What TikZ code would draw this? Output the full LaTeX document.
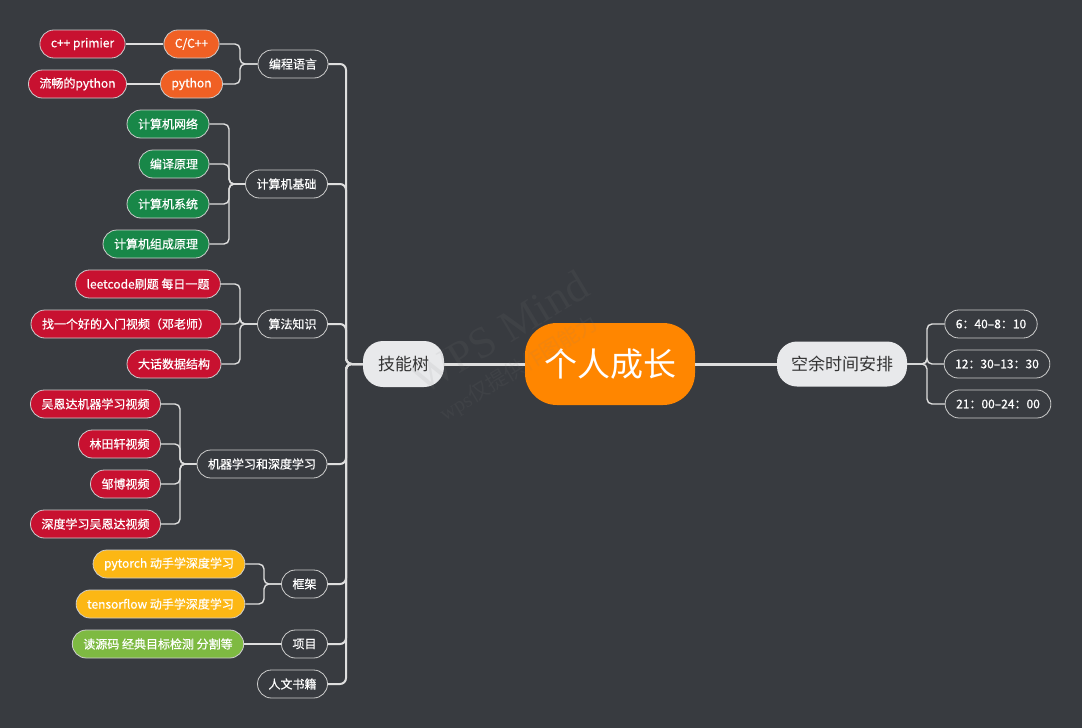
\documentclass[tikz,border=0pt]{standalone}
\usepackage{fontspec}
\setmainfont{Noto Sans CJK SC}
\newfontfamily\wmserif{Liberation Serif}
\newfontfamily\boldish[FakeBold=0.6]{Noto Sans CJK SC}
\begin{document}
\begin{tikzpicture}[x=1pt,y=-1pt,
  font=\boldish\fontsize{12}{14}\selectfont,
  base/.style={rounded corners=14pt, minimum height=28pt, inner xsep=11pt, inner ysep=0pt, draw=outl, line width=0.8pt, text=white, anchor=center},
  outl1/.style={base, fill=bgc},
  fillnode/.style={base, fill=#1},
  conn/.style={draw=linec, line width=1.4pt, rounded corners=5pt},
  conn2/.style={draw=linec, line width=2pt, rounded corners=6pt},
  conn3/.style={draw=linec, line width=3pt},
  wmark/.style={rotate=31, text=gray, opacity=0.1},
]
\definecolor{bgc}{RGB}{56,59,64}
\definecolor{outl}{RGB}{205,205,205}
\definecolor{linec}{RGB}{222,222,222}
\definecolor{rootc}{RGB}{255,134,0}
\definecolor{lightc}{RGB}{232,233,235}
\definecolor{darkt}{RGB}{51,51,51}
\definecolor{orc}{RGB}{240,96,36}
\definecolor{redc}{RGB}{200,17,48}
\definecolor{grnc}{RGB}{24,135,72}
\definecolor{yelc}{RGB}{252,183,20}
\definecolor{limc}{RGB}{126,186,66}

\fill[bgc] (0,0) rectangle (1082,728);
\useasboundingbox (0,0) rectangle (1082,728);

% centre
\node[fill=rootc, rounded corners=32pt, minimum height=82pt, inner xsep=19pt, text=white, font=\rmfamily\fontsize{33}{36}\selectfont] (root) at (610,364) {个人成长};
\node[fill=lightc, rounded corners=20pt, minimum height=46pt, inner xsep=15pt, text=darkt, font=\rmfamily\fontsize{17}{20}\selectfont] (jn) at (403.5,364) {技能树};
\node[fill=lightc, rounded corners=20pt, minimum height=45pt, inner xsep=14pt, text=darkt, font=\rmfamily\fontsize{17}{20}\selectfont] (ky) at (842,364) {空余时间安排};

% right children
\node[outl1] (t1) at (991,324) {6：40–8：10};
\node[outl1] (t2) at (997,364) {12：30–13：30};
\node[outl1] (t3) at (998,404) {21：00–24：00};

% level 1
\node[outl1] (bc) at (293,64) {编程语言};
\node[outl1] (jc) at (286.5,184) {计算机基础};
\node[outl1] (sf) at (292.5,324) {算法知识};
\node[outl1] (ml) at (262,464) {机器学习和深度学习};
\node[outl1] (kj) at (304.5,584) {框架};
\node[outl1] (xm) at (304.5,644) {项目};
\node[outl1] (rw) at (292.5,684) {人文书籍};

% level 2
\node[fillnode=orc] (cpp) at (191.5,44) {C/C++};
\node[fillnode=orc] (py) at (191.5,84) {python};
\node[fillnode=redc] (cppb) at (82.5,44) {c++ primier};
\node[fillnode=redc] (pyb) at (77.5,84) {流畅的python};

\node[fillnode=grnc] (j1) at (168,124) {计算机网络};
\node[fillnode=grnc] (j2) at (174,164) {编译原理};
\node[fillnode=grnc] (j3) at (168,204) {计算机系统};
\node[fillnode=grnc] (j4) at (156,244) {计算机组成原理};

\node[fillnode=redc] (s1) at (148,284) {leetcode刷题 每日一题};
\node[fillnode=redc] (s2) at (126,324) {找一个好的入门视频（邓老师）};
\node[fillnode=redc] (s3) at (174,364) {大话数据结构};

\node[fillnode=redc] (m1) at (95.5,404) {吴恩达机器学习视频};
\node[fillnode=redc] (m2) at (119.5,444) {林田轩视频};
\node[fillnode=redc] (m3) at (125.5,484) {邹博视频};
\node[fillnode=redc] (m4) at (95.5,524) {深度学习吴恩达视频};

\node[fillnode=yelc] (k1) at (169,564) {pytorch 动手学深度学习};
\node[fillnode=yelc] (k2) at (160.5,604) {tensorflow 动手学深度学习};

\node[fillnode=limc] (x1) at (158,644) {读源码 经典目标检测 分割等};

% junction coordinates
\coordinate (tj) at (346,364);
\coordinate (rj) at (927,364);
\coordinate (bj) at (240,64);
\coordinate (jj) at (229,184);
\coordinate (sj) at (240,324);
\coordinate (mj) at (180,464);
\coordinate (kjj) at (264,584);

% connectors
\draw[conn3] (root) -- (jn);
\draw[conn3] (root) -- (ky);

\foreach \c in {bc,jc,sf,ml,kj,xm,rw} {\draw[conn2] (jn.west) -- (tj) |- (\c.east);}
\foreach \c in {t1,t2,t3} {\draw[conn] (ky.east) -- (rj) |- (\c.west);}
\foreach \c in {cpp,py} {\draw[conn] (bc.west) -- (bj) |- (\c.east);}
\draw[conn] (cpp.west) -- (cppb.east);
\draw[conn] (py.west) -- (pyb.east);
\foreach \c in {j1,j2,j3,j4} {\draw[conn] (jc.west) -- (jj) |- (\c.east);}
\foreach \c in {s1,s2,s3} {\draw[conn] (sf.west) -- (sj) |- (\c.east);}
\foreach \c in {m1,m2,m3,m4} {\draw[conn] (ml.west) -- (mj) |- (\c.east);}
\foreach \c in {k1,k2} {\draw[conn] (kj.west) -- (kjj) |- (\c.east);}
\draw[conn] (xm.west) -- (x1.east);

% watermark
\node[wmark, font=\wmserif\fontsize{44}{48}\selectfont] (wm1) at (500,332) {WPS Mind};
\node[wmark, font=\rmfamily\fontsize{21}{24}\selectfont] (wm2) at (519,369) {{\wmserif wps}仅提供作图能力};
\end{tikzpicture}
\end{document}
